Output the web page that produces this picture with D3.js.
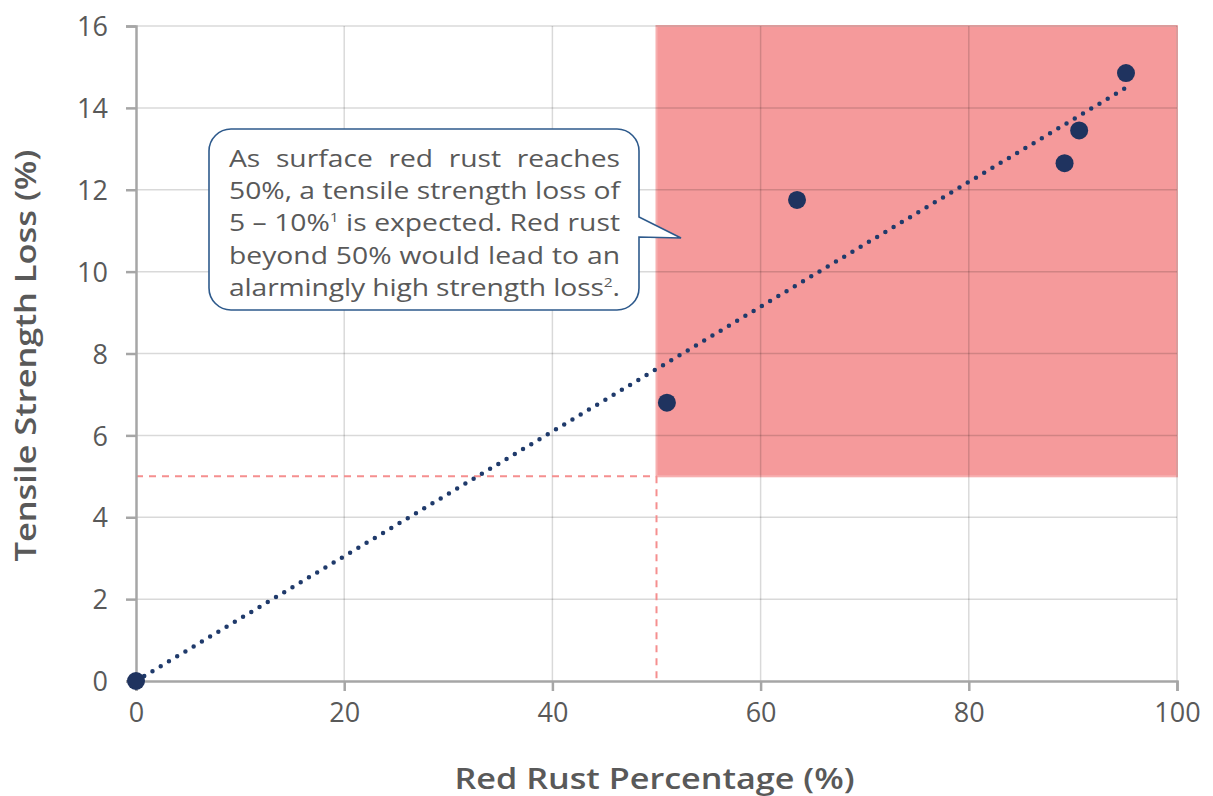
<!DOCTYPE html>
<html>
<head>
<meta charset="utf-8">
<script src="https://cdn.jsdelivr.net/npm/d3@7"></script>
<style>
  body { margin: 0; background: #fff; }
  text { font-family: "Open Sans", "Noto Sans", sans-serif; }
</style>
</head>
<body>
<div id="chart"></div>
<script>
const rustPct = [0, 51, 63.5, 89.2, 90.6, 95.1];
const strengthLoss = [0, 6.8, 11.75, 12.65, 13.45, 14.85];
const xTicks = [0, 20, 40, 60, 80, 100];
const yTicks = [0, 2, 4, 6, 8, 10, 12, 14, 16];
const calloutLines = [
  ['As surface red rust reaches', ''],
  ['50%, a tensile strength loss of', ''],
  ['5 \u2013 10%', '1', ' is expected. Red rust'],
  ['beyond 50% would lead to an', ''],
  ['alarmingly high strength loss', '2', '.']
];

const width = 1213, height = 796;
const margin = {top: 26, right: 36, bottom: 115, left: 136};
const font = '"Open Sans", "Noto Sans", sans-serif';

const svg = d3.select('#chart').append('svg')
    .attr('width', width)
    .attr('height', height);

const x = d3.scaleLinear().domain([0, 100]).range([margin.left, width - margin.right]);
const y = d3.scaleLinear().domain([0, 16]).range([height - margin.bottom, margin.top]);

// red zone: beyond 50% rust, above 5% loss
svg.append('rect')
    .attr('x', x(50))
    .attr('y', y(16))
    .attr('width', x(100) - x(50))
    .attr('height', y(5) - y(16))
    .attr('fill', '#f59a9b')
    .attr('stroke', '#f7b0b0')
    .attr('stroke-width', 2);

// gridlines
svg.append('g').selectAll('line')
    .data(yTicks.filter(d => d > 0))
    .enter().append('line')
    .attr('x1', x(0)).attr('x2', x(100))
    .attr('y1', d => y(d)).attr('y2', d => y(d))
    .attr('stroke', 'rgba(0,0,0,0.15)')
    .attr('stroke-width', 1.5);
svg.append('g').selectAll('line')
    .data(xTicks.filter(d => d > 0))
    .enter().append('line')
    .attr('y1', y(0)).attr('y2', y(16))
    .attr('x1', d => x(d)).attr('x2', d => x(d))
    .attr('stroke', 'rgba(0,0,0,0.15)')
    .attr('stroke-width', 1.5);

// dashed guides at 50% / 5%
svg.append('path')
    .attr('d', `M${x(0)},${y(5)}H${x(50)}M${x(50)},${y(5)}V${y(0)}`)
    .attr('fill', 'none')
    .attr('stroke', '#f58f8f')
    .attr('stroke-width', 2)
    .attr('stroke-dasharray', '7,6');

// axes
const xAxis = svg.append('g')
    .attr('transform', `translate(0,${y(0)})`)
    .call(d3.axisBottom(x).tickValues(xTicks).tickSize(10).tickPadding(12));
const yAxis = svg.append('g')
    .attr('transform', `translate(${x(0)},0)`)
    .call(d3.axisLeft(y).tickValues(yTicks).tickSize(10).tickPadding(18));
[xAxis, yAxis].forEach(a => {
  a.select('.domain').attr('stroke', '#a6a6a6').attr('stroke-width', 2.5);
  a.selectAll('.tick line').attr('stroke', '#a6a6a6').attr('stroke-width', 2.5);
  a.selectAll('.tick text')
      .attr('fill', '#595959')
      .style('font-size', '27px')
      .style('font-weight', 400)
      .style('font-family', font);
});
yAxis.selectAll('.tick text').attr('dy', '0.36em');

// trendline through origin (least squares)
const slope = d3.sum(rustPct, (d, i) => d * strengthLoss[i]) / d3.sum(rustPct, d => d * d);
svg.append('line')
    .attr('x1', x(0)).attr('y1', y(0))
    .attr('x2', x(95)).attr('y2', y(95 * slope))
    .attr('stroke', '#1f3a6b')
    .attr('stroke-width', 4.5)
    .attr('stroke-linecap', 'round')
    .attr('stroke-dasharray', '0,9.6');

// points
svg.append('g').selectAll('circle')
    .data(rustPct)
    .enter().append('circle')
    .attr('cx', d => x(d))
    .attr('cy', (d, i) => y(strengthLoss[i]))
    .attr('r', 9)
    .attr('fill', '#1f335f');

// axis titles
svg.append('text')
    .attr('x', x(50) - 2)
    .attr('y', 789)
    .attr('text-anchor', 'middle')
    .attr('fill', '#595959')
    .style('font-size', '28px')
    .style('font-weight', 600)
    .attr('textLength', 400)
    .attr('lengthAdjust', 'spacingAndGlyphs')
    .text('Red Rust Percentage (%)');
svg.append('text')
    .attr('transform', `translate(36,${y(8) + 2}) rotate(-90)`)
    .attr('text-anchor', 'middle')
    .attr('fill', '#595959')
    .style('font-size', '28px')
    .style('font-weight', 600)
    .attr('textLength', 412)
    .attr('lengthAdjust', 'spacingAndGlyphs')
    .text('Tensile Strength Loss (%)');

// callout
const bx = 209, by = 129, bw = 430, bh = 181, r = 22;
const tipX = 681, tipY = 238;
const callout = svg.append('g');
callout.append('path')
    .attr('d', `M${bx + r},${by}H${bx + bw - r}A${r},${r} 0 0 1 ${bx + bw},${by + r}` +
      `V217L${tipX},${tipY}L${bx + bw},237` +
      `V${by + bh - r}A${r},${r} 0 0 1 ${bx + bw - r},${by + bh}` +
      `H${bx + r}A${r},${r} 0 0 1 ${bx},${by + bh - r}V${by + r}A${r},${r} 0 0 1 ${bx + r},${by}Z`)
    .attr('fill', '#fff')
    .attr('stroke', '#2e5a8c')
    .attr('stroke-width', 1.6);

const textLeft = 229, textRight = 620, calloutSize = 24.5;
// the reference face is wider than Open Sans: stretch horizontally so line 2 fills the box
const probe = callout.append('text').style('font-size', calloutSize + 'px').text(calloutLines[1][0]);
const sx = (textRight - textLeft) / probe.node().getComputedTextLength();
probe.remove();
const lineW = (textRight - textLeft) / sx;
const textG = callout.append('g').attr('transform', `translate(${textLeft},0) scale(${sx},1)`);

calloutLines.forEach((parts, i) => {
  const t = textG.append('text')
      .attr('x', 0)
      .attr('y', 167 + i * 32.2)
      .attr('fill', '#595959')
      .style('font-size', calloutSize + 'px');
  parts.forEach((p, j) => {
    if (!p) return;
    const s = t.append('tspan').text(p);
    if (j === 1) s.attr('baseline-shift', 'super').style('font-size', (calloutSize * 0.55) + 'px');
  });
  const len = t.node().getComputedTextLength();
  const spaces = parts.join('').split(' ').length - 1;
  if (i < calloutLines.length - 1 && spaces > 0) {
    t.attr('word-spacing', Math.max(0, (lineW - len) / spaces));
  } else {
    t.attr('textLength', lineW).attr('lengthAdjust', 'spacing');
  }
});
</script>
</body>
</html>
